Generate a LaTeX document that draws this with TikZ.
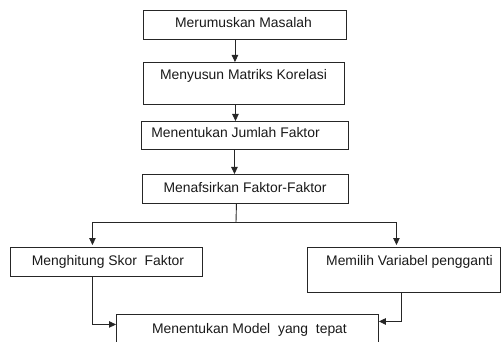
\documentclass[tikz,border=0pt]{standalone}
\usepackage{fontspec}
\setmainfont{Liberation Sans}
\usetikzlibrary{arrows.meta}
\begin{document}
\begin{tikzpicture}[x=1pt,y=-1pt,
  box/.style={draw=black!85, line width=0.9pt, inner sep=0pt, anchor=north west, rectangle},
  lbl/.style={font=\fontsize{13.9}{16}\selectfont, inner sep=0pt, text=black!90, anchor=base},
  ln/.style={draw=black!85, line width=0.9pt},
  arr/.style={ln, -{Triangle[length=7pt,width=6.5pt]}}]
\useasboundingbox (0,0) rectangle (501,342);
\clip (0,0) rectangle (501,342);
% boxes
\node[box, minimum width=203pt, minimum height=29pt] (b1) at (143,10) {};
\node[box, minimum width=201pt, minimum height=42pt] (b2) at (143,62) {};
\node[box, minimum width=207pt, minimum height=28pt] (b3) at (141,121) {};
\node[box, minimum width=206pt, minimum height=29pt] (b4) at (142,174) {};
\node[box, minimum width=192pt, minimum height=29pt] (b5) at (10,247) {};
\node[box, minimum width=193pt, minimum height=45pt] (b6) at (307,247) {};
\node[box, minimum width=262pt, minimum height=40pt] (b7) at (116,314) {};
% labels
\node[lbl] (t1) at (243.5,28) {Merumuskan Masalah};
\node[lbl] (t2) at (243.5,80) {Menyusun Matriks Korelasi};
\node[lbl] (t3) at (235.5,138) {Menentukan Jumlah Faktor};
\node[lbl] (t4) at (245,193) {Menafsirkan Faktor-Faktor};
\node[lbl] (t5) at (108,265) {Menghitung Skor\ \ Faktor};
\node[lbl] (t6) at (409.5,265) {Memilih Variabel pengganti};
\node[lbl] (t7) at (249.5,333) {Menentukan Model\ \ yang\ \ tepat};
% connectors
\draw[arr] ([xshift=-10pt]b1.south) -- ([xshift=-10pt]b1.south |- b2.north);
\draw[arr] ([xshift=-8.5pt]b2.south) -- ([xshift=-8.5pt]b2.south |- b3.north);
\draw[arr] ([xshift=-10.5pt]b3.south) -- ([xshift=-10.5pt]b3.south |- b4.north);
\coordinate (s) at (236,222);
\draw[ln] ([xshift=-9pt]b4.south) -- (s);
\draw[arr] (s) -| ([xshift=-14pt,yshift=2pt]b5.north);
\draw[arr] (s) -| ([xshift=-7.5pt,yshift=2pt]b6.north);
\draw[arr] ([xshift=-14pt]b5.south) |- ([yshift=10pt]b7.west);
\draw[arr] ([xshift=-2.5pt]b6.south) |- ([yshift=13pt]b7.east);
\end{tikzpicture}
\end{document}
